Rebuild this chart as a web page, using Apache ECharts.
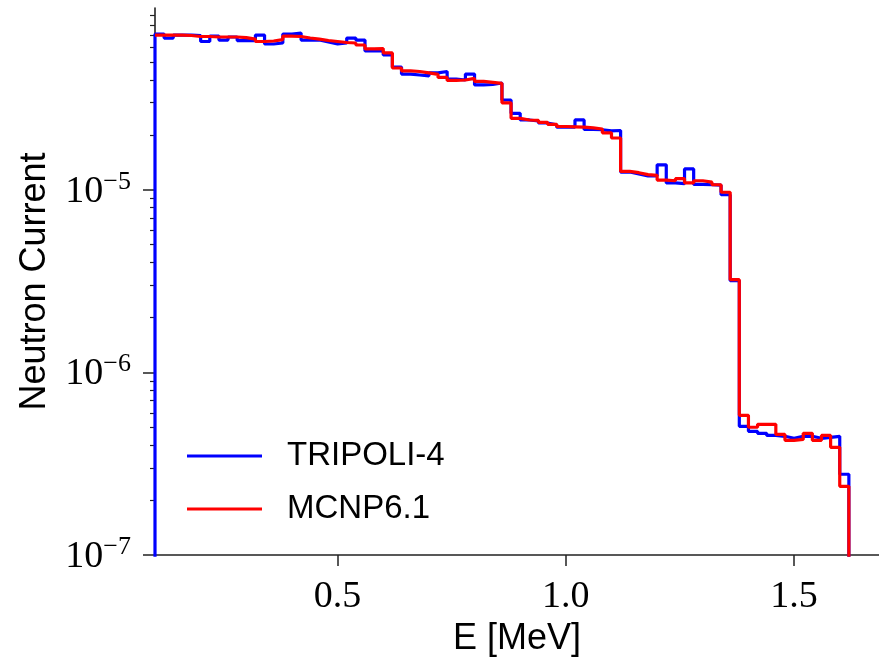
<!DOCTYPE html>
<html>
<head>
<meta charset="utf-8">
<script src="https://cdn.jsdelivr.net/npm/echarts@6/dist/echarts.min.js"></script>
<style>
  html, body { margin: 0; padding: 0; background: #fff; }
  #chart { width: 879px; height: 662px; }
</style>
</head>
<body>
<div id="chart"></div>
<script>
// Bin edges in MeV (77 edges -> 76 bins)
const binEdges = [
  0.10,0.12,0.14,0.16,0.18,0.20,0.22,0.24,0.26,0.28,
  0.30,0.32,0.34,0.36,0.38,0.40,0.42,0.44,0.46,0.48,
  0.50,0.52,0.54,0.56,0.58,0.60,0.62,0.64,0.66,0.68,
  0.70,0.72,0.74,0.76,0.78,0.80,0.82,0.84,0.86,0.88,
  0.90,0.92,0.94,0.96,0.98,1.00,1.02,1.04,1.06,1.08,
  1.10,1.12,1.14,1.16,1.18,1.20,1.22,1.24,1.26,1.28,
  1.30,1.32,1.34,1.36,1.38,1.40,1.42,1.44,1.46,1.48,
  1.50,1.52,1.54,1.56,1.58,1.60,1.62
];

// TRIPOLI-4 neutron current per bin
const tripoli = [
  7.12e-5, 6.77e-5, 7.03e-5, 7.03e-5, 6.99e-5, 6.48e-5, 6.94e-5, 6.60e-5, 6.86e-5, 6.56e-5,
  6.56e-5, 7.03e-5, 6.28e-5, 6.36e-5, 7.12e-5, 7.21e-5, 6.60e-5, 6.60e-5, 6.44e-5, 6.28e-5,
  6.36e-5, 6.77e-5, 6.60e-5, 5.75e-5, 5.75e-5, 5.47e-5, 4.70e-5, 4.30e-5, 4.25e-5, 4.20e-5,
  4.36e-5, 4.44e-5, 4.04e-5, 3.99e-5, 4.30e-5, 3.75e-5, 3.77e-5, 3.84e-5, 3.10e-5, 2.62e-5,
  2.41e-5, 2.38e-5, 2.32e-5, 2.27e-5, 2.20e-5, 2.20e-5, 2.41e-5, 2.14e-5, 2.13e-5, 2.10e-5,
  2.11e-5, 1.25e-5, 1.22e-5, 1.19e-5, 1.19e-5, 1.37e-5, 1.09e-5, 1.08e-5, 1.30e-5, 1.07e-5,
  1.065e-5, 1.06e-5, 9.39e-6, 3.18e-6, 5.07e-7, 4.76e-7, 4.64e-7, 4.52e-7, 4.47e-7, 4.36e-7,
  4.47e-7, 4.47e-7, 4.36e-7, 4.41e-7, 4.47e-7, 2.77e-7
];

// MCNP6.1 neutron current per bin
const mcnp = [
  7.03e-5, 7.03e-5, 7.03e-5, 6.99e-5, 6.90e-5, 6.90e-5, 6.86e-5, 6.86e-5, 6.86e-5, 6.81e-5,
  6.68e-5, 6.48e-5, 6.52e-5, 6.64e-5, 6.94e-5, 6.90e-5, 6.77e-5, 6.68e-5, 6.56e-5, 6.48e-5,
  6.40e-5, 6.36e-5, 6.20e-5, 5.90e-5, 5.93e-5, 5.61e-5, 4.64e-5, 4.47e-5, 4.44e-5, 4.36e-5,
  4.28e-5, 4.12e-5, 3.97e-5, 3.99e-5, 4.07e-5, 3.92e-5, 3.87e-5, 3.82e-5, 2.99e-5, 2.46e-5,
  2.41e-5, 2.40e-5, 2.34e-5, 2.28e-5, 2.22e-5, 2.21e-5, 2.20e-5, 2.18e-5, 2.15e-5, 2.05e-5,
  1.92e-5, 1.26e-5, 1.24e-5, 1.21e-5, 1.20e-5, 1.13e-5, 1.12e-5, 1.15e-5, 1.09e-5, 1.12e-5,
  1.10e-5, 1.065e-5, 9.69e-6, 3.22e-6, 5.82e-7, 5.01e-7, 5.20e-7, 5.20e-7, 4.58e-7, 4.25e-7,
  4.30e-7, 4.64e-7, 4.25e-7, 4.52e-7, 3.89e-7, 2.38e-7
];

const seriesNames = ['TRIPOLI-4', 'MCNP6.1'];
const xTickValues = [0.5, 1.0, 1.5];
const yDecadeExponents = [-7, -6, -5];

// log10 axis helpers
const LOG_FLOOR = -9; // below the visible range, so edge verticals reach the bottom
function stepData(values, dropAtStart) {
  const pts = [];
  if (dropAtStart) pts.push([binEdges[0], LOG_FLOOR]);
  for (let i = 0; i < values.length; i++) pts.push([binEdges[i], Math.log10(values[i])]);
  const last = values.length;
  pts.push([binEdges[last], Math.log10(values[last - 1])]);
  pts.push([binEdges[last], LOG_FLOOR]);
  return pts;
}

const minorTicks = [];
yDecadeExponents.forEach(function (e) {
  for (let k = 2; k <= 9; k++) minorTicks.push(e + Math.log10(k));
});

const sup = { '-7': '\u22127', '-6': '\u22126', '-5': '\u22125' };

const chart = echarts.init(document.getElementById('chart'), null, { renderer: 'canvas' });
chart.setOption({
  animation: false,
  backgroundColor: '#ffffff',
  grid: { left: 155, right: 0, top: 8, bottom: 106, containLabel: false },
  legend: {
    orient: 'vertical',
    left: 182,
    top: 431,
    itemWidth: 75,
    itemHeight: 3,
    itemGap: 13,
    data: [
      { name: seriesNames[0], icon: 'rect' },
      { name: seriesNames[1], icon: 'rect' }
    ],
    textStyle: {
      fontFamily: 'Liberation Sans',
      fontSize: 33,
      color: '#000',
      lineHeight: 40,
      padding: [0, 0, 0, 20]
    }
  },
  xAxis: {
    type: 'value',
    min: 0.1,
    max: 1.686,
    name: 'E [MeV]',
    nameLocation: 'middle',
    nameGap: 64,
    nameTextStyle: { fontFamily: 'Liberation Sans', fontSize: 36, color: '#000' },
    axisLine: { show: true, lineStyle: { color: '#222', width: 1.6 } },
    axisTick: { show: true, customValues: xTickValues, length: 11, lineStyle: { color: '#222', width: 1.5 } },
    axisLabel: {
      customValues: xTickValues,
      formatter: function (v) { return v.toFixed(1); },
      fontFamily: 'Liberation Serif',
      fontSize: 38,
      color: '#000',
      margin: 23
    },
    splitLine: { show: false }
  },
  yAxis: [
    {
      type: 'value',
      min: -7,
      max: -4.005,
      position: 'left',
      name: 'Neutron Current',
      nameLocation: 'middle',
      nameGap: 102,
      nameTextStyle: { fontFamily: 'Liberation Sans', fontSize: 36, color: '#000' },
      axisLine: { show: true, lineStyle: { color: '#222', width: 1.6 } },
      axisTick: { show: true, customValues: yDecadeExponents, length: 12, lineStyle: { color: '#222', width: 1.5 } },
      axisLabel: {
        customValues: yDecadeExponents,
        margin: 24,
        formatter: function (v) { return '{b|10}{s|' + sup[String(Math.round(v))] + '}'; },
        rich: {
          b: { fontFamily: 'Liberation Serif', fontSize: 38, color: '#000', lineHeight: 42, verticalAlign: 'bottom' },
          s: { fontFamily: 'Liberation Serif', fontSize: 26, color: '#000', lineHeight: 26, verticalAlign: 'top' }
        }
      },
      splitLine: { show: false }
    },
    {
      type: 'value',
      min: -7,
      max: -4.005,
      position: 'left',
      axisLine: { show: false },
      axisTick: { show: true, customValues: minorTicks, length: 5, lineStyle: { color: '#222', width: 1.2 } },
      axisLabel: { show: false },
      splitLine: { show: false }
    }
  ],
  series: [
    {
      name: seriesNames[0],
      type: 'line',
      step: 'end',
      yAxisIndex: 0,
      showSymbol: false,
      symbol: 'none',
      clip: true,
      lineStyle: { color: '#0000ff', width: 3.2 },
      itemStyle: { color: '#0000ff' },
      data: stepData(tripoli, true)
    },
    {
      name: seriesNames[1],
      type: 'line',
      step: 'end',
      yAxisIndex: 0,
      showSymbol: false,
      symbol: 'none',
      clip: true,
      lineStyle: { color: '#ff0000', width: 3.2 },
      itemStyle: { color: '#ff0000' },
      data: stepData(mcnp, false)
    }
  ]
});
</script>
</body>
</html>
